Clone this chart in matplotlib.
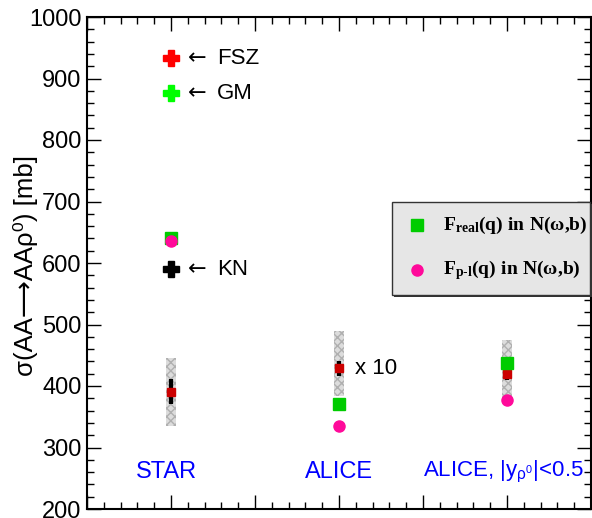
import matplotlib
matplotlib.use("Agg")
import matplotlib.pyplot as plt
from matplotlib.lines import Line2D
from matplotlib.patches import Rectangle
from matplotlib.ticker import MultipleLocator

plt.rcParams['font.family'] = ['Liberation Sans', 'DejaVu Sans']
plt.rcParams['mathtext.fontset'] = 'custom'
plt.rcParams['mathtext.rm'] = 'Liberation Sans'
plt.rcParams['mathtext.it'] = 'Liberation Sans:italic'
plt.rcParams['mathtext.bf'] = 'Liberation Serif:bold'

# ---- data ----
categories = ["STAR", "ALICE", r"ALICE, |y$_{\mathrm{\rho^{0}}}$|<0.5"]
xpos = [1, 3, 5]
data_val = [391, 429, 420]
stat_err = [20, 12, 11]
syst_lo = [335, 384, 372]
syst_hi = [445, 489, 475]
f_real = [641, 371, 438]
f_pl = [636, 335, 377]

model_names = ["FSZ", "GM", "KN"]
model_vals = [933, 876, 590]
model_colors = ["#ff0000", "#00ff00", "#000000"]

fig = plt.figure(figsize=(5.92, 5.18), dpi=100)
ax = fig.add_axes([87/592, 9/518, 504/592, 492/518])
ax.set_xlim(0, 6)
ax.set_ylim(200, 1000)

# systematic bands
for x, lo, hi in zip(xpos, syst_lo, syst_hi):
    ax.bar(x, hi - lo, bottom=lo, width=0.13, color='#dcdcdc',
           edgecolor='#b0b0b0', linewidth=0, hatch='xxxx', zorder=2)

# stat errors
ax.errorbar(xpos, data_val, yerr=stat_err, fmt='none', ecolor='black',
            elinewidth=3, capsize=0, zorder=3)
ax.plot(xpos, data_val, 's', color='#cc0000', ms=6, zorder=4)

ax.plot(xpos, f_real, 's', color='#00cc00', ms=8, zorder=5, linestyle='none')
ax.plot(xpos, f_pl, 'o', color='#ff0a9a', ms=8, zorder=6, linestyle='none')

# model crosses
for name, v, c in zip(model_names, model_vals, model_colors):
    ax.plot(1, v, 'P', color=c, ms=11, zorder=5)
    ax.text(1.2, v, "\u2190", fontsize=16, va='center', ha='left',
            family=['DejaVu Sans'])
    ax.text(1.55, v, name, fontsize=16, va='center', ha='left')

ax.text(3.19, data_val[1], "x 10", fontsize=16, va='center', ha='left')

# category labels
ax.text(0.95, 260, categories[0], color='#0000ff', fontsize=17, ha='center', va='center')
ax.text(3.0, 260, categories[1], color='#0000ff', fontsize=17, ha='center', va='center')
ax.text(4.0, 260, categories[2], color='#0000ff', fontsize=16, ha='left', va='center')

# axes styling
for s in ax.spines.values():
    s.set_linewidth(1.5)
ax.xaxis.set_major_locator(MultipleLocator(1))
ax.xaxis.set_minor_locator(MultipleLocator(0.2))
ax.yaxis.set_major_locator(MultipleLocator(100))
ax.yaxis.set_minor_locator(MultipleLocator(20))
ax.tick_params(which='both', direction='in', top=True, right=True, width=1)
ax.tick_params(which='major', length=10)
ax.tick_params(which='minor', length=5)
ax.tick_params(axis='x', labelbottom=False)
ax.tick_params(axis='y', labelsize=17, pad=4)

fig.text(26/592, 1 - 266/518, "σ(AA\u27f6AAρ\u2070) [mb]", rotation=90,
         fontsize=18.5, ha='center', va='center')

# legend box
x0, x1 = 392/592, 590/592
y0, y1 = 1 - 295/518, 1 - 202/518
fig.add_artist(Rectangle((x0 + 2/592, y0 - 2/518), x1 - x0, y1 - y0,
                         transform=fig.transFigure, facecolor='#333333',
                         edgecolor='none', zorder=9))
fig.add_artist(Rectangle((x0, y0), x1 - x0, y1 - y0, transform=fig.transFigure,
                         facecolor='#e6e6e6', edgecolor='#333333', linewidth=1, zorder=10))
fig.add_artist(Line2D([417/592], [1 - 225/518], marker='s', color='#00cc00', ms=8,
                      transform=fig.transFigure, zorder=11))
fig.add_artist(Line2D([417/592], [1 - 270/518], marker='o', color='#ff0a9a', ms=8,
                      transform=fig.transFigure, zorder=11))
fig.text(443/592, 1 - 225/518, r"$\mathbf{F_{real}(q)\ in\ N(\omega{,}b)}$",
         fontsize=14, ha='left', va='center', zorder=12)
fig.text(443/592, 1 - 270/518, r"$\mathbf{F_{p\text{-}l}(q)\ in\ N(\omega{,}b)}$",
         fontsize=14, ha='left', va='center', zorder=12)

fig.savefig("out.png", dpi=100)
